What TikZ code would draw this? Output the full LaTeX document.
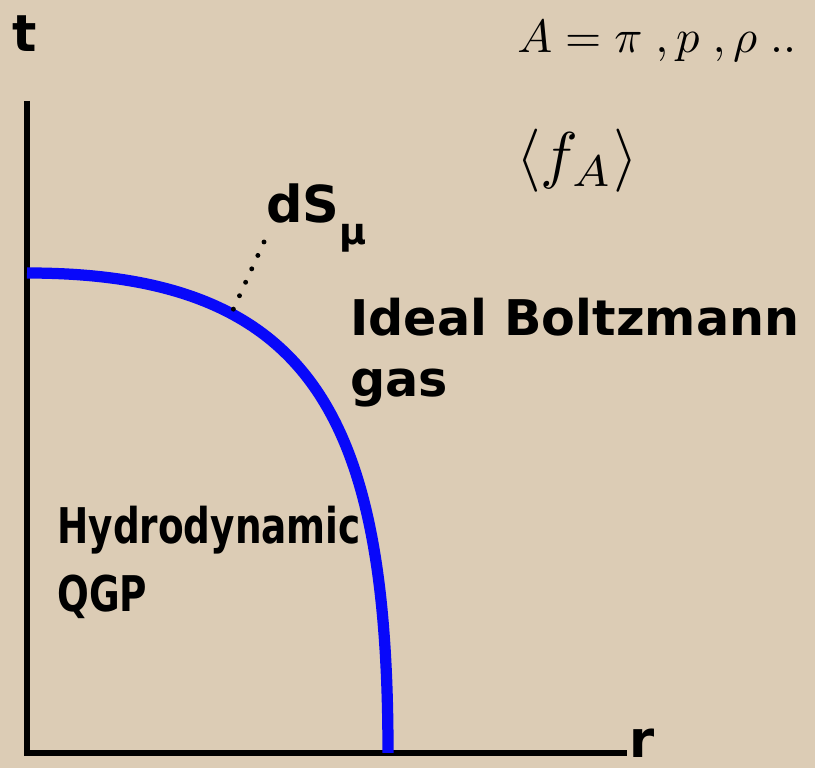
\documentclass[tikz,border=0pt]{standalone}
\usepackage{fontspec}
\usepackage{amsmath,amssymb}
\newfontfamily\labelfont{DejaVu Sans}
\newfontfamily\narrowfont[FakeStretch=0.76]{DejaVu Sans}
\definecolor{paper}{RGB}{220,204,181}
\definecolor{surface}{RGB}{8,8,250}

\begin{document}
\begin{tikzpicture}[
    axislabel/.style={font=\labelfont\bfseries\fontsize{29}{34}\selectfont, inner sep=0pt},
    regionlabel/.style={align=left, inner sep=0pt, anchor=north west},
    dotline/.style={line width=2.8pt, line cap=round, dash pattern=on 0pt off 8.4pt}
]
    \fill[paper] (0,0) rectangle (16.3,15.36);
    \useasboundingbox (0,0) rectangle (16.3,15.36);
    \coordinate (origin) at (0.54,0.30);
    \coordinate (ttop) at (0.54,13.34);
    \coordinate (rend) at (12.54,0.30);
    \draw[line width=3.2pt] (ttop) -- (origin) -- (rend);
    \node[axislabel, anchor=base] (tlabel) at (0.50,14.32) {t};
    \node[axislabel, anchor=base west] (rlabel) at (12.58,0.20) {r};
    \draw[surface, line width=6.4pt] (0.54,9.90) .. controls (6.27,9.90) and (7.76,6.97) .. (7.76,0.30)
        coordinate[pos=0.3] (dspoint);
    \coordinate (dsend) at (5.28,10.52);
    \draw[dotline] (dsend) -- (dspoint);
    \node[axislabel, anchor=base west] (dslabel) at (5.32,10.90) {dS\raisebox{-0.44cm}{\fontsize{21}{21}\selectfont μ}};
    \node[regionlabel, font=\labelfont\bfseries\fontsize{28}{34.7}\selectfont] (gas) at (7.00,9.40) {Ideal Boltzmann\\gas};
    \node[regionlabel, font=\narrowfont\bfseries\fontsize{28}{38.6}\selectfont] (qgp) at (1.14,5.24) {Hydrodynamic\\QGP};
    \node[anchor=base west, inner sep=0pt] (species) at (10.34,14.30) {\scalebox{2.65}{$A = \pi\;,p\;,\rho\;..$}};
    \node[inner sep=0pt] (meanf) at (11.54,12.14) {\scalebox{3.6}{$\langle f_A\rangle$}};
\end{tikzpicture}
\end{document}
